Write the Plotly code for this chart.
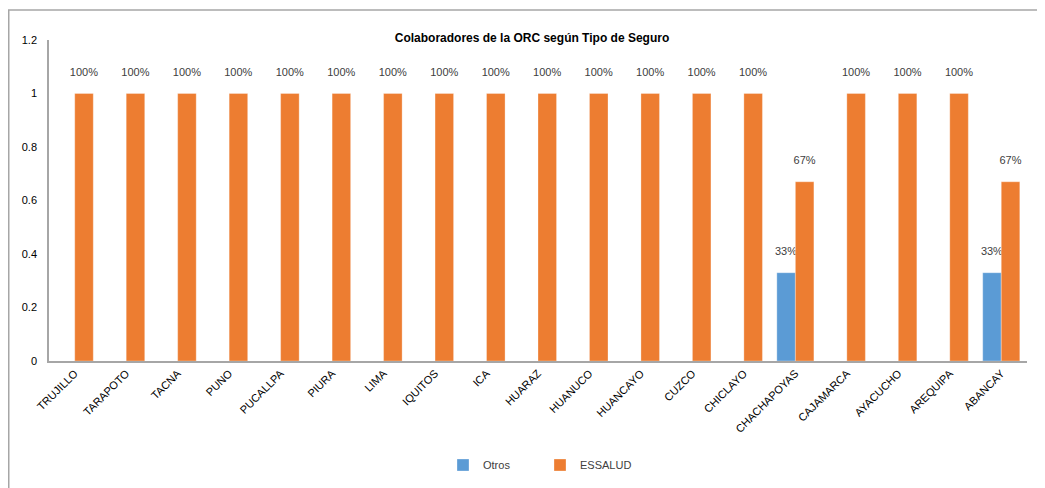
import plotly.graph_objects as go

categories = ["TRUJILLO", "TARAPOTO", "TACNA", "PUNO", "PUCALLPA", "PIURA", "LIMA",
              "IQUITOS", "ICA", "HUARAZ", "HUANUCO", "HUANCAYO", "CUZCO", "CHICLAYO",
              "CHACHAPOYAS", "CAJAMARCA", "AYACUCHO", "AREQUIPA", "ABANCAY"]
otros = [0, 0, 0, 0, 0, 0, 0, 0, 0, 0, 0, 0, 0, 0, 0.33, 0, 0, 0, 0.33]
essalud = [1, 1, 1, 1, 1, 1, 1, 1, 1, 1, 1, 1, 1, 1, 0.67, 1, 1, 1, 0.67]
y_ticks = [0, 0.2, 0.4, 0.6, 0.8, 1, 1.2]
y_tick_labels = ["0", "0.2", "0.4", "0.6", "0.8", "1", "1.2"]

FONT = "Arial, Liberation Sans, sans-serif"
BLUE = "#5B9BD5"
ORANGE = "#ED7D31"
LABEL = "#404040"


def labels(vals):
    return ["" if v == 0 else f"{v:.0%}<br><span style='font-size:1px'> </span>" for v in vals]


fig = go.Figure()
for name, vals, color in [("Otros", otros, BLUE), ("ESSALUD", essalud, ORANGE)]:
    fig.add_trace(go.Bar(
        name=name, x=categories, y=vals, marker_color=color,
        marker_line=dict(color="rgba(255,255,255,0.6)", width=0.5),
        text=labels(vals), textposition="outside", cliponaxis=False,
        constraintext="none",
        textfont=dict(family=FONT, size=11, color=LABEL),
        hoverinfo="x+y",
    ))

# page body adds an 8px offset; work in reference pixel coords minus 8
OFF = 8
W, H = 1045 - OFF, 488 - OFF
L, R, T, B = 49 - OFF, 1045 - 1027, 40 - OFF, 488 - 361
pw, ph = W - L - R, H - T - B


def px(x):
    return (x - OFF - L) / pw


def py(y):
    return (H - B - (y - OFF)) / ph


fig.update_layout(
    width=W, height=H,
    margin=dict(l=L, r=R, t=T, b=B, autoexpand=False),
    paper_bgcolor="white", plot_bgcolor="white",
    barmode="group", bargap=0.28, bargroupgap=0,
    font=dict(family=FONT, size=11, color="#000000"),
    title=dict(text="<b>Colaboradores de la ORC según Tipo de Seguro</b>",
               x=(532 - OFF) / W, xanchor="center", y=1 - (38 - OFF) / H, yanchor="middle",
               font=dict(family=FONT, size=12, color="#000000")),
    legend=dict(orientation="h", x=px(540), xanchor="center", y=py(465), yanchor="middle",
                font=dict(family=FONT, size=11, color="#404040"),
                itemwidth=30, entrywidth=52, traceorder="normal"),
    shapes=[
        dict(type="line", xref="paper", yref="paper", x0=px(8.75), x1=px(8.75), y0=py(10), y1=py(H + OFF + 5),
             line=dict(color="#A6A6A6", width=1.5)),
        dict(type="line", xref="paper", yref="paper", x0=px(8), x1=px(W + OFF + 5), y0=py(10), y1=py(10),
             line=dict(color="#A6A6A6", width=1.5)),
    ],
)
fig.update_xaxes(
    tickangle=-45, showgrid=False, showline=True, linecolor="#A6A6A6", linewidth=1.5,
    ticks="", tickfont=dict(family=FONT, size=11, color="#000000"),
)
fig.update_yaxes(
    range=[0, 1.2], tickvals=y_ticks, ticktext=y_tick_labels, showgrid=False,
    showline=True, linecolor="#A6A6A6", linewidth=1.5, zeroline=False,
    ticks="", ticklabelstandoff=8, tickfont=dict(family=FONT, size=11, color="#000000"),
)

fig.write_html("out.html")
